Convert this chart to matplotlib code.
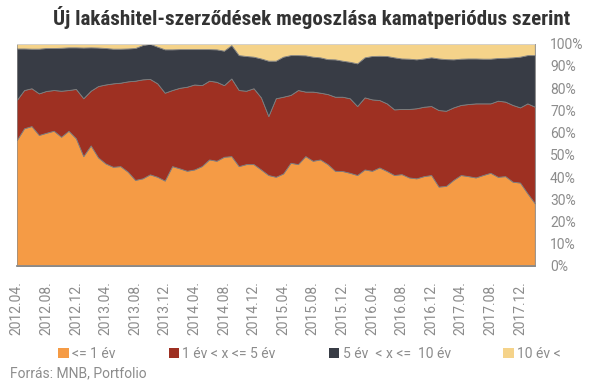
import matplotlib
matplotlib.use("Agg")
import matplotlib.pyplot as plt
from matplotlib.patches import Patch
from matplotlib import font_manager
import numpy as np

# Havi adatok 2012.04. - 2018.02. (%)
le_1 = [56.6, 61.9, 62.9, 58.9, 59.9, 60.8, 58.1, 60.8, 57.4, 49.4,
        54.2, 48.8, 46.1, 44.6, 44.9, 42.4, 38.7, 39.4, 41.2, 40.1,
        38.4, 44.9, 43.9, 42.8, 43.4, 44.9, 47.9, 47.3, 49.1, 49.4,
        44.9, 45.8, 45.8, 43.4, 40.9, 40.1, 41.6, 46.4, 45.8, 49.4,
        47.3, 47.9, 45.8, 42.8, 42.7, 41.9, 40.9, 43.4, 42.8, 44.3,
        42.7, 40.9, 41.3, 39.8, 39.4, 40.4, 40.9, 35.7, 36.0, 38.7,
        40.9, 40.4, 39.8, 40.9, 41.9, 40.1, 40.4, 37.9, 37.5, 32.7,
        28.2]
y1_5 = [18.0, 17.2, 17.0, 18.7, 18.8, 18.3, 20.7, 18.3, 22.2, 26.0,
        24.6, 32.1, 35.5, 37.5, 37.5, 40.6, 44.6, 44.5, 42.9, 42.0,
        39.5, 34.2, 36.2, 37.8, 38.2, 36.4, 35.4, 35.5, 32.2, 34.9,
        34.2, 33.0, 34.1, 32.4, 26.5, 35.3, 34.5, 30.5, 33.3, 29.0,
        31.1, 30.0, 31.5, 33.3, 33.4, 33.5, 31.0, 32.4, 32.1, 30.3,
        30.4, 29.5, 29.3, 30.8, 31.5, 31.2, 31.0, 34.4, 33.8, 32.6,
        31.5, 32.4, 33.3, 32.2, 31.2, 34.2, 33.5, 34.5, 33.8, 40.4,
        43.4]
y5_10 = [23.2, 18.7, 17.8, 20.1, 19.3, 18.9, 19.3, 19.2, 18.7, 22.8,
         19.5, 17.3, 16.4, 15.6, 15.3, 14.8, 14.7, 15.4, 15.8, 16.5,
         19.5, 18.3, 17.4, 16.9, 15.9, 16.2, 14.2, 14.6, 15.5, 15.0,
         15.7, 15.6, 14.2, 17.5, 24.9, 16.9, 18.0, 17.9, 15.7, 16.3,
         15.7, 15.9, 15.7, 16.8, 16.2, 16.4, 19.2, 18.0, 19.5, 19.9,
         21.3, 23.4, 22.7, 22.6, 22.0, 21.7, 21.9, 23.2, 23.2, 21.6,
         20.8, 20.5, 20.2, 20.1, 20.1, 19.2, 19.7, 21.4, 22.8, 21.7,
         23.2]
gt_10 = [2.2, 2.2, 2.3, 2.3, 2.0, 2.0, 1.9, 1.7, 1.7, 1.8,
         1.7, 1.8, 2.0, 2.3, 2.3, 2.2, 2.0, 0.7, 0.1, 1.4,
         2.6, 2.6, 2.5, 2.5, 2.5, 2.5, 2.5, 2.6, 3.2, 0.7,
         5.2, 5.6, 5.9, 6.7, 7.7, 7.7, 5.9, 5.2, 5.2, 5.3,
         5.9, 6.2, 7.0, 7.1, 7.7, 8.2, 8.9, 6.2, 5.6, 5.5,
         5.6, 6.2, 6.7, 6.8, 7.1, 6.7, 6.2, 6.7, 7.0, 7.1,
         6.8, 6.7, 6.7, 6.8, 6.8, 6.5, 6.4, 6.2, 5.9, 5.2,
         5.2]

tick_labels = ["2012.04.", "2012.08.", "2012.12.", "2013.04.", "2013.08.",
               "2013.12.", "2014.04.", "2014.08.", "2014.12.", "2015.04.",
               "2015.08.", "2015.12.", "2016.04.", "2016.08.", "2016.12.",
               "2017.04.", "2017.08.", "2017.12."]
series_names = ["<= 1 év", "1 év < x <= 5 év", "5 év  < x <=  10 év", "10 év <"]
colors = ["#F59B45", "#9E3022", "#383C45", "#F5D38A"]

plt.rcParams["font.family"] = ["Roboto", "DejaVu Sans"]
grey = "#8C8C8C"

# szűkített betű a címhez, ha van
names = {f.name for f in font_manager.fontManager.ttflist}
title_font = "Roboto Condensed" if "Roboto Condensed" in names else "Roboto"

fig = plt.figure(figsize=(6.05, 3.82), dpi=100)
ax = fig.add_axes([0.0276, 0.3037, 0.8564, 0.5823])

x = np.arange(len(le_1))
ax.stackplot(x, le_1, y1_5, y5_10, gt_10, colors=colors,
             edgecolor="#7F7F7F", linewidth=0.6)

ax.set_xlim(0, len(le_1) - 1)
ax.set_ylim(0, 100)
ax.axhline(100, color="#D9D9D9", lw=1.2, zorder=5)

ax.yaxis.tick_right()
ax.set_yticks(np.arange(0, 101, 10))
ax.set_yticklabels([f"{v}%" for v in range(0, 101, 10)])
ax.tick_params(axis="y", length=0, pad=11, labelsize=10, labelcolor=grey)

ax.set_xticks(np.arange(0, len(tick_labels) * 4, 4))
ax.set_xticklabels(tick_labels, rotation=90)
ax.tick_params(axis="x", length=0, pad=11, labelsize=10, labelcolor=grey)

for s in ["top", "left", "right"]:
    ax.spines[s].set_visible(False)
ax.spines["bottom"].set_color("#8A8A8A")
ax.spines["bottom"].set_linewidth(1.3)
ax.spines["bottom"].set_zorder(6)

# Cím: kb. 52-570 px közé igazítva
title = fig.text(570 / 605, 0.953,
                 "Új lakáshitel-szerződések megoszlása kamatperiódus szerint",
                 ha="right", va="center", fontsize=14, fontweight="bold",
                 family=title_font, color="#333333")
renderer = fig.canvas.get_renderer()
w = title.get_window_extent(renderer).width
title.set_fontsize(14 * 518 / w)

handles = [Patch(facecolor=c, edgecolor="none") for c in colors]
fig.legend(handles, series_names, loc="center", bbox_to_anchor=(0.512, 0.073),
           ncol=4, frameon=False, fontsize=10, labelcolor=grey,
           handlelength=0.75, handleheight=0.75, handletextpad=0.25,
           columnspacing=3.8)

fig.text(0.017, 0.022, "Forrás: MNB, Portfolio", ha="left", va="center",
         fontsize=10, color=grey)

plt.savefig("out.png", dpi=100)
